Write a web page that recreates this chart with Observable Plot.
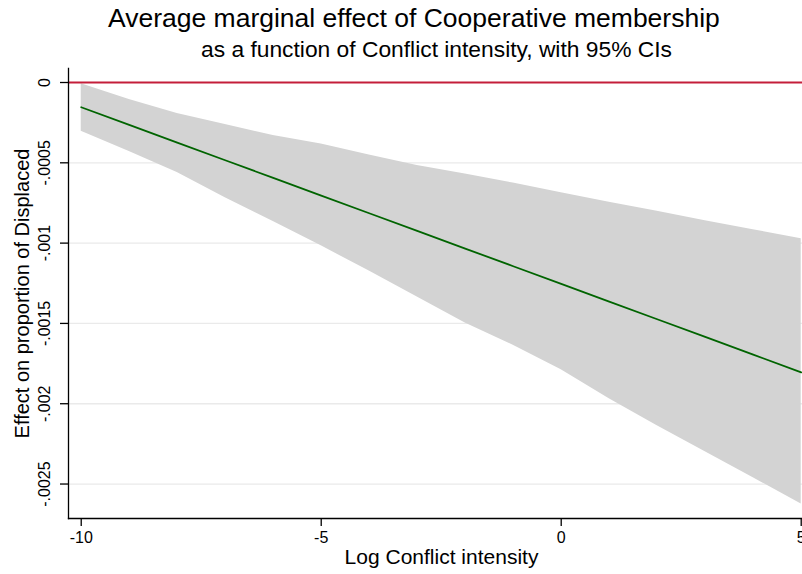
<!DOCTYPE html>
<html>
<head>
<meta charset="utf-8">
<script src="https://cdn.jsdelivr.net/npm/d3@7"></script>
<script src="https://cdn.jsdelivr.net/npm/@observablehq/plot@0.6"></script>
<style>
  html, body { margin: 0; padding: 0; background: #fff; }
  #wrap { position: relative; width: 802px; height: 574px; font-family: "Liberation Sans", Arial, Helvetica, sans-serif; }
  #title { position: absolute; left: 108px; top: 3px; font-size: 26.5px; color: #000; white-space: nowrap; }
  #subtitle { position: absolute; left: 201px; top: 36px; font-size: 22.8px; color: #000; white-space: nowrap; }
  #chart { position: absolute; left: 0; top: 64px; }
</style>
</head>
<body>
<div id="wrap">
  <div id="title">Average marginal effect of Cooperative membership</div>
  <div id="subtitle">as a function of Conflict intensity, with 95% CIs</div>
  <div id="chart"></div>
</div>
<script>
// Log conflict intensity (x)
const conflict = [-10, -9, -8, -7, -6, -5, -4, -3, -2, -1, 0, 1, 2, 3, 4, 5];
// Average marginal effect of Cooperative membership
const effect = [-0.000154, -0.000264, -0.000374, -0.000484, -0.000594, -0.000704, -0.000814, -0.000924,
                -0.001034, -0.001144, -0.001254, -0.001364, -0.001474, -0.001584, -0.001694, -0.001805];
// 95% CI upper and lower bounds
const ciUpper = [-0.000008, -0.000106, -0.000193, -0.000262, -0.000330, -0.000383, -0.000452, -0.000517,
                 -0.000570, -0.000626, -0.000687, -0.000745, -0.000802, -0.000860, -0.000916, -0.000973];
const ciLower = [-0.000303, -0.000430, -0.000561, -0.000717, -0.000866, -0.001017, -0.001174, -0.001336,
                 -0.001498, -0.001636, -0.001788, -0.001969, -0.002137, -0.002299, -0.002461, -0.002625];
// Axis ticks
const xTicks = [-10, -5, 0, 5];
const xTickLabels = ["-10", "-5", "0", "5"];
const yTicks = [0, -0.0005, -0.001, -0.0015, -0.002, -0.0025];
const yTickLabels = ["0", "-.0005", "-.001", "-.0015", "-.002", "-.0025"];

const rows = conflict.map((x, i) => ({x, effect: effect[i], lo: ciLower[i], hi: ciUpper[i]}));
const yt = yTicks.map((v, i) => ({v, label: yTickLabels[i]}));

const font = "Liberation Sans, Arial, Helvetica, sans-serif";

const chart = Plot.plot({
  width: 802,
  height: 510,
  marginTop: 4,
  marginLeft: 68,
  marginRight: 0,
  marginBottom: 56,
  style: {fontFamily: font, background: "#fff", color: "#000", overflow: "visible"},
  x: {domain: [-10.265, 5.027], axis: null},
  y: {domain: [-0.0027146, 0.0000872], axis: null},
  marks: [
    // gridlines
    Plot.ruleY(yTicks.filter(v => v !== 0), {stroke: "#eaeaea", strokeWidth: 1.3}),
    // CI band
    Plot.areaY(rows, {x: "x", y1: "lo", y2: "hi", fill: "#d3d3d3"}),
    // zero reference line
    Plot.ruleY([0], {stroke: "#c41e3a", strokeWidth: 2}),
    // marginal effect line
    Plot.line(rows, {x: "x", y: "effect", stroke: "#006400", strokeWidth: 1.8}),
    // axis lines
    Plot.frame({anchor: "left", stroke: "#000", strokeWidth: 1.3}),
    Plot.frame({anchor: "bottom", stroke: "#000", strokeWidth: 1.3}),
    // y ticks and rotated labels
    Plot.axisY(yTicks, {tickSize: 8, tickFormat: () => "", label: null, stroke: "#000", strokeWidth: 1.3}),
    Plot.text(yt, {y: "v", text: "label", frameAnchor: "left", dx: -24, rotate: -90, textAnchor: "middle", lineAnchor: "middle", fontSize: 16, fill: "#000"}),
    // x ticks
    Plot.axisX(xTicks, {tickSize: 8, tickPadding: 5, tickFormat: (d) => xTickLabels[xTicks.indexOf(d)], label: null, fontSize: 16, stroke: "#000", strokeWidth: 1.3}),
    // axis titles
    Plot.text(["Log Conflict intensity"], {frameAnchor: "bottom", dy: 39, dx: 6, fontSize: 21, fill: "#000", lineAnchor: "middle"}),
    Plot.text(["Effect on proportion of Displaced"], {frameAnchor: "left", dx: -46, rotate: -90, textAnchor: "middle", lineAnchor: "middle", fontSize: 20, fill: "#000"})
  ]
});
document.getElementById("chart").appendChild(chart);
</script>
</body>
</html>
